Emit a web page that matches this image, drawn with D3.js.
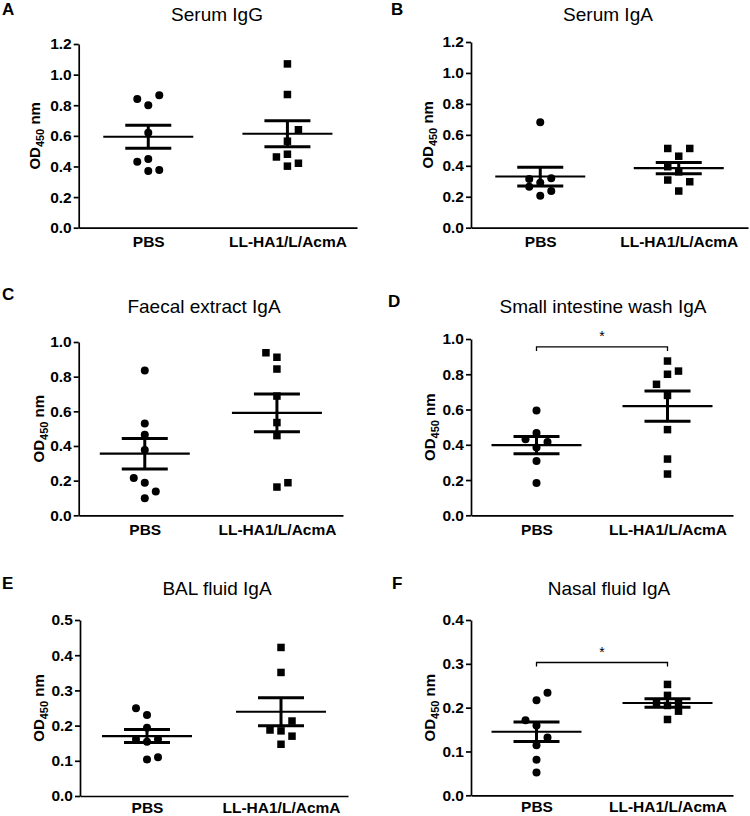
<!DOCTYPE html>
<html>
<head>
<meta charset="utf-8">
<script src="https://cdn.jsdelivr.net/npm/d3@7"></script>
<style>
  html, body { margin: 0; padding: 0; background: #fff; }
  svg { display: block; font-family: "Liberation Sans", Arial, Helvetica, sans-serif; }
</style>
</head>
<body>
<svg id="chart" width="750" height="816"></svg>
<script>
// ---------------- DATA ----------------
const categories = ["PBS", "LL-HA1/L/AcmA"];
const panelLetters = ["A", "B", "C", "D", "E", "F"];
const panelTitles = ["Serum IgG", "Serum IgA", "Faecal extract IgA",
                     "Small intestine wash IgA", "BAL fluid IgA", "Nasal fluid IgA"];
const yMaxes = [1.2, 1.2, 1.0, 1.0, 0.5, 0.4];
const yTickSteps = [0.2, 0.2, 0.2, 0.2, 0.1, 0.1];

// individual mouse values (OD450 nm)
const serumIgG_PBS = [0.84, 0.80, 0.865, 0.62, 0.449, 0.431, 0.371, 0.377];
const serumIgG_LL  = [1.07, 0.87, 0.64, 0.565, 0.462, 0.48, 0.421, 0.402];
const serumIgA_PBS = [0.682, 0.315, 0.32, 0.29, 0.265, 0.237, 0.206];
const serumIgA_LL  = [0.512, 0.512, 0.462, 0.394, 0.361, 0.308, 0.297, 0.237];
const faecalIgA_PBS = [0.835, 0.529, 0.465, 0.377, 0.215, 0.188, 0.137, 0.098];
const faecalIgA_LL  = [0.938, 0.912, 0.844, 0.688, 0.535, 0.46, 0.163, 0.188];
const intestineIgA_PBS = [0.595, 0.467, 0.431, 0.416, 0.384, 0.308, 0.183];
const intestineIgA_LL  = [0.875, 0.80, 0.818, 0.743, 0.68, 0.486, 0.319, 0.234];
const balIgA_PBS = [0.249, 0.230, 0.194, 0.161, 0.154, 0.161, 0.104, 0.110];
const balIgA_LL  = [0.422, 0.351, 0.213, 0.1875, 0.185, 0.170, 0.147];
const nasalIgA_PBS = [0.234, 0.217, 0.171, 0.159, 0.132, 0.114, 0.081, 0.052];
const nasalIgA_LL  = [0.253, 0.228, 0.212, 0.211, 0.192, 0.205, 0.173];

// scatter column of each replicate (-1 left, 0 centre, +1 right)
const serumIgG_PBS_col = [-1, 0, 1, 0, 0, -1, 0, 1];
const serumIgG_LL_col  = [0, 0, 1, 0, -1, 0, 1, 0];
const serumIgA_PBS_col = [0, -1, 1, 0, -1, 1, 0];
const serumIgA_LL_col  = [-1, 1, 0, -1, 0, -1, 1, 0];
const faecalIgA_PBS_col = [0, 0, 0, 0, -1, 0, 1, 0];
const faecalIgA_LL_col  = [-1, 0, 0, 0, 0, 0, 0, 1];
const intestineIgA_PBS_col = [0, 0, -1, 1, 0, 0, 0];
const intestineIgA_LL_col  = [0, 0, 1, -1, 0, 0, 0, 0];
const balIgA_PBS_col = [-1, 0, 0, -1, 0, 1, 0, 1];
const balIgA_LL_col  = [0, 0, 1, -1, 0, 1, 0];
const nasalIgA_PBS_col = [1, 0, -1, 0, 1, 0, 0, 0];
const nasalIgA_LL_col  = [0, 0, -1, 1, 1, 0, 0];

// significance brackets (value level of bracket, label)
const sigLevels = [null, null, null, 0.955, null, 0.303];
const sigLabels = [null, null, null, "*", null, "*"];

const groupValues = [
  [serumIgG_PBS, serumIgG_LL], [serumIgA_PBS, serumIgA_LL],
  [faecalIgA_PBS, faecalIgA_LL], [intestineIgA_PBS, intestineIgA_LL],
  [balIgA_PBS, balIgA_LL], [nasalIgA_PBS, nasalIgA_LL]
];
const groupCols = [
  [serumIgG_PBS_col, serumIgG_LL_col], [serumIgA_PBS_col, serumIgA_LL_col],
  [faecalIgA_PBS_col, faecalIgA_LL_col], [intestineIgA_PBS_col, intestineIgA_LL_col],
  [balIgA_PBS_col, balIgA_LL_col], [nasalIgA_PBS_col, nasalIgA_LL_col]
];

// ---------------- LAYOUT ----------------
const frames = [
  {x0: 78.7, x1: 357, yTop: 44,  yBot: 227.7, ylabX: 40,  letX: 2,   letY: 15,  titX: 217, titY: 21, pad: 8.5},
  {x0: 471,  x1: 748, yTop: 42,  yBot: 227.7, ylabX: 433, letX: 391, letY: 15,  titX: 608, titY: 21, pad: 8.5},
  {x0: 78.7, x1: 343, yTop: 342, yBot: 515.3, ylabX: 44,  letX: 2,   letY: 300, titX: 204, titY: 313, pad: 8.5},
  {x0: 471,  x1: 733, yTop: 339, yBot: 515.3, ylabX: 435, letX: 388, letY: 307, titX: 603, titY: 313, pad: 8.5},
  {x0: 80,   x1: 348, yTop: 620, yBot: 796,   ylabX: 44,  letX: 2,   letY: 589, titX: 217, titY: 595, pad: 5.5},
  {x0: 471,  x1: 733, yTop: 620, yBot: 795.3, ylabX: 435, letX: 392, letY: 589, titX: 609, titY: 595, pad: 6}
];
const JIT = 11, R = 4, SQ = 7.5, MEAN_HW = 45, CAP_HW = 23;

const svg = d3.select("#chart");

frames.forEach((f, i) => {
  const g = svg.append("g");
  const x = d3.scalePoint().domain(categories).range([f.x0, f.x1]).padding(0.5);
  const y = d3.scaleLinear().domain([0, yMaxes[i]]).range([f.yBot, f.yTop]);
  const ticks = d3.range(0, yMaxes[i] + 1e-9, yTickSteps[i]);

  // y axis
  const ya = g.append("g").attr("transform", `translate(${f.x0},0)`)
    .call(d3.axisLeft(y).tickValues(ticks).tickFormat(d3.format(".1f"))
      .tickSize(5).tickSizeOuter(0).tickPadding(2));
  ya.select(".domain").attr("stroke", "#000").attr("stroke-width", 1.7);
  ya.selectAll(".tick line").attr("stroke", "#000").attr("stroke-width", 1.7);
  ya.selectAll(".tick text").attr("font-size", 15.5).attr("font-weight", "bold")
    .attr("fill", "#000").attr("font-family", "Liberation Sans, Arial, sans-serif");

  // x axis
  const xa = g.append("g").attr("transform", `translate(0,${f.yBot})`)
    .call(d3.axisBottom(x).tickSize(0).tickSizeOuter(0).tickPadding(f.pad));
  xa.select(".domain").attr("stroke", "#000").attr("stroke-width", 1.7);
  xa.selectAll(".tick text").attr("font-size", 15.5).attr("font-weight", "bold")
    .attr("fill", "#000").attr("font-family", "Liberation Sans, Arial, sans-serif");

  // y label
  const yl = g.append("text")
    .attr("transform", `translate(${f.ylabX},${(f.yTop + f.yBot) / 2}) rotate(-90)`)
    .attr("text-anchor", "middle").attr("font-weight", "bold").attr("font-size", 15);
  yl.append("tspan").text("OD");
  yl.append("tspan").attr("font-size", 11).attr("dy", 4).text("450");
  yl.append("tspan").attr("dy", -4).text(" nm");

  // title & letter
  g.append("text").attr("x", f.titX).attr("y", f.titY).attr("text-anchor", "middle")
    .attr("font-size", 19).text(panelTitles[i]);
  g.append("text").attr("x", f.letX).attr("y", f.letY)
    .attr("font-size", 17).attr("font-weight", "bold").text(panelLetters[i]);

  // groups
  categories.forEach((c, k) => {
    const vals = groupValues[i][k];
    const cols = groupCols[i][k];
    const cx = x(c);
    const m = d3.mean(vals);
    const sem = d3.deviation(vals) / Math.sqrt(vals.length);

    const pts = vals.map((v, j) => ({v, col: cols[j]}));
    if (k === 0) {
      g.selectAll(null).data(pts).enter().append("circle")
        .attr("cx", d => cx + d.col * JIT).attr("cy", d => y(d.v))
        .attr("r", R).attr("fill", "#000");
    } else {
      g.selectAll(null).data(pts).enter().append("rect")
        .attr("x", d => cx + d.col * JIT - SQ / 2).attr("y", d => y(d.v) - SQ / 2)
        .attr("width", SQ).attr("height", SQ).attr("fill", "#000");
    }
    // mean & SEM
    g.append("line").attr("x1", cx - MEAN_HW).attr("x2", cx + MEAN_HW)
      .attr("y1", y(m)).attr("y2", y(m)).attr("stroke", "#000").attr("stroke-width", 2.2);
    g.append("line").attr("x1", cx).attr("x2", cx)
      .attr("y1", y(m - sem)).attr("y2", y(m + sem)).attr("stroke", "#000").attr("stroke-width", 3);
    [m - sem, m + sem].forEach(v => {
      g.append("line").attr("x1", cx - CAP_HW).attr("x2", cx + CAP_HW)
        .attr("y1", y(v)).attr("y2", y(v)).attr("stroke", "#000").attr("stroke-width", 3);
    });
  });

  // significance bracket
  if (sigLevels[i] !== null) {
    const by = y(sigLevels[i]);
    const xa0 = x(categories[0]), xa1 = x(categories[1]);
    g.append("path")
      .attr("d", `M${xa0},${by + 4}V${by}H${xa1}V${by + 4}`)
      .attr("fill", "none").attr("stroke", "#000").attr("stroke-width", 1.3);
    g.append("text").attr("x", (xa0 + xa1) / 2).attr("y", by - 6)
      .attr("text-anchor", "middle").attr("font-size", 14).text(sigLabels[i]);
  }
});
</script>
</body>
</html>
